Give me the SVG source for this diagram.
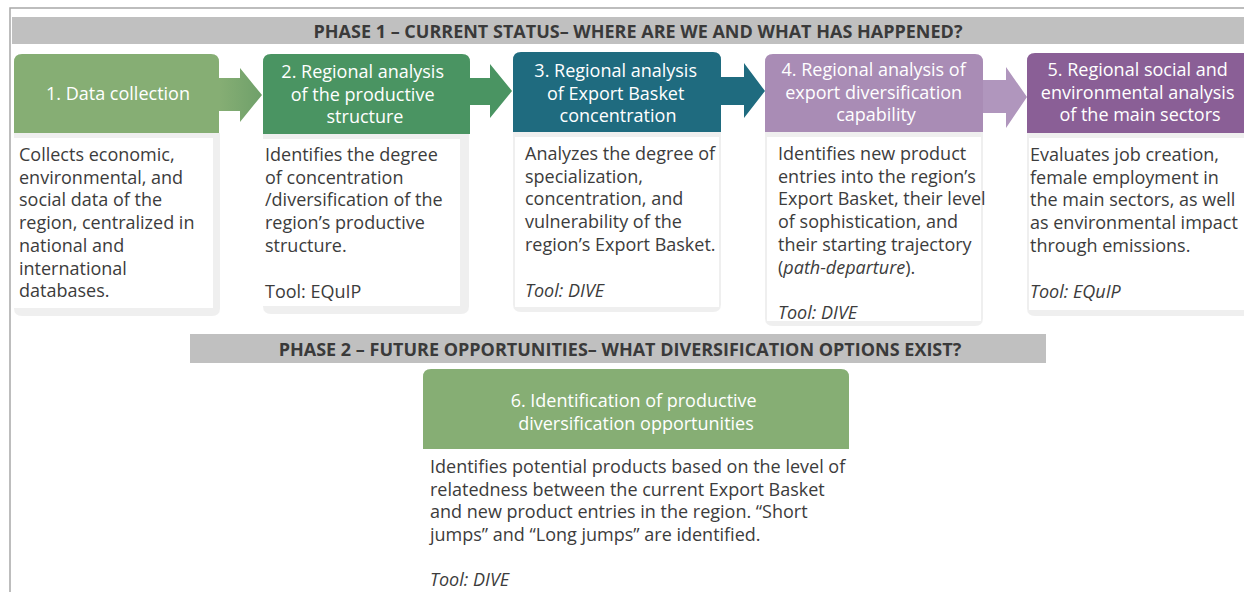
<svg xmlns="http://www.w3.org/2000/svg" width="1244" height="592" viewBox="0 0 1244 592">
  <style>
    .bar { fill: #c0c0c0; }
    .bar-title { font-family: "Open Sans", "Liberation Sans", sans-serif; font-weight: 700; font-size: 18px; fill: #3a3a3a; text-anchor: middle; }
    .head-text { font-family: "Open Sans", "Liberation Sans", sans-serif; font-size: 18px; fill: #ffffff; text-anchor: middle; }
    .body-text { font-family: "Open Sans", "Liberation Sans", sans-serif; font-size: 18px; fill: #3c3c3c; }
    .tool { font-style: italic; }
    .shadow { fill: #efefef; }
    .sheet { fill: #ffffff; }
    .frame { fill: none; stroke: #a8a8a8; stroke-width: 1.5; }
  </style>
  <defs>
    <linearGradient id="arrowGreen" x1="0" y1="0" x2="1" y2="0">
      <stop offset="0" stop-color="#86ae74"/>
      <stop offset="1" stop-color="#6fa06a"/>
    </linearGradient>
  </defs>

  <rect width="1244" height="592" fill="#ffffff"/>
  <!-- outer frame -->
  <polyline class="frame" points="10,592 10,8 1244,8"/>

  <!-- phase banners -->
  <g id="phase1">
    <rect class="bar" x="12" y="17" width="1232" height="27"/>
    <text class="bar-title" x="638" y="37.5">PHASE 1 – CURRENT STATUS– WHERE ARE WE AND WHAT HAS HAPPENED?</text>
  </g>
  <g id="phase2">
    <rect class="bar" x="190" y="334" width="856" height="29"/>
    <text class="bar-title" x="620" y="355.5">PHASE 2 – FUTURE OPPORTUNITIES– WHAT DIVERSIFICATION OPTIONS EXIST?</text>
  </g>

  <!-- connectors -->
  <g id="connectors">
    <polygon fill="url(#arrowGreen)" points="219,78 240,78 240,68 262,95 240,122 240,111 219,111"/>
    <polygon fill="#4a9462" points="470,78 490,78 490,64 512,91 490,118 490,105 470,105"/>
    <polygon fill="#1f6b7f" points="721,77 744,77 744,63 765,91 744,118 744,105 721,105"/>
    <polygon fill="#b096bd" points="983,80 1006,80 1006,67 1027,97 1006,128 1006,113 983,113"/>
  </g>

  <!-- step 1 -->
  <g id="node1">
    <path class="shadow" d="M14,133 H220 V308 Q220,316 212,316 H22 Q14,316 14,308 Z"/>
    <rect class="sheet" x="14" y="138" width="199" height="170"/>
    <path fill="#86ae74" d="M14,133 V62 Q14,54 22,54 H211 Q219,54 219,62 V133 Z"/>
    <text class="head-text" x="118" y="100">1. Data collection</text>
    <text class="body-text" x="19" y="161">
      <tspan x="19">Collects economic,</tspan>
      <tspan x="19" dy="22.7">environmental, and</tspan>
      <tspan x="19" dy="22.7">social data of the</tspan>
      <tspan x="19" dy="22.7">region, centralized in</tspan>
      <tspan x="19" dy="22.7">national and</tspan>
      <tspan x="19" dy="22.7">international</tspan>
      <tspan x="19" dy="22.7">databases.</tspan>
    </text>
  </g>

  <!-- step 2 -->
  <g id="node2">
    <path class="shadow" d="M263,134 H469 V306 Q469,314 461,314 H271 Q263,314 263,306 Z"/>
    <rect class="sheet" x="263" y="139" width="197" height="167"/>
    <path fill="#4a9462" d="M263,134 V62 Q263,54 271,54 H462 Q470,54 470,62 V134 Z"/>
    <text class="head-text" x="365" y="78">
      <tspan x="365">2. Regional analysis</tspan>
      <tspan x="365" dy="22.5">of the productive</tspan>
      <tspan x="365" dy="22.5">structure</tspan>
    </text>
    <text class="body-text" x="265" y="161">
      <tspan x="265">Identifies the degree</tspan>
      <tspan x="265" dy="22.7">of concentration</tspan>
      <tspan x="265" dy="22.7">/diversification of the</tspan>
      <tspan x="265" dy="22.7">region’s productive</tspan>
      <tspan x="265" dy="22.7">structure.</tspan>
      <tspan x="265" y="298">Tool: EQuIP</tspan>
    </text>
  </g>

  <!-- step 3 -->
  <g id="node3">
    <path class="shadow" d="M513,132 H721 V304 Q721,312 713,312 H521 Q513,312 513,304 Z"/>
    <rect class="sheet" x="515" y="137" width="204" height="170"/>
    <path fill="#1f6b7f" d="M513,132 V60 Q513,52 521,52 H713 Q721,52 721,60 V132 Z"/>
    <text class="head-text" x="618" y="77">
      <tspan x="618">3. Regional analysis</tspan>
      <tspan x="618" dy="22.5">of Export Basket</tspan>
      <tspan x="618" dy="22.5">concentration</tspan>
    </text>
    <text class="body-text" x="525" y="160">
      <tspan x="525">Analyzes the degree of</tspan>
      <tspan x="525" dy="22.7">specialization,</tspan>
      <tspan x="525" dy="22.7">concentration, and</tspan>
      <tspan x="525" dy="22.7">vulnerability of the</tspan>
      <tspan x="525" dy="22.7">region’s Export Basket.</tspan>
      <tspan class="tool" x="525" y="297">Tool: DIVE</tspan>
    </text>
  </g>

  <!-- step 4 -->
  <g id="node4">
    <path class="shadow" d="M765,132 H983 V318 Q983,326 975,326 H773 Q765,326 765,318 Z"/>
    <rect class="sheet" x="767" y="137" width="214" height="184"/>
    <path fill="#a98cb5" d="M765,132 V62 Q765,54 773,54 H975 Q983,54 983,62 V132 Z"/>
    <text class="head-text" x="876" y="76">
      <tspan x="876">4. Regional analysis of</tspan>
      <tspan x="876" dy="22.5">export diversification</tspan>
      <tspan x="876" dy="22.5">capability</tspan>
    </text>
    <text class="body-text" x="778" y="160">
      <tspan x="778">Identifies new product</tspan>
      <tspan x="778" dy="22.7">entries into the region’s</tspan>
      <tspan x="778" dy="22.7">Export Basket, their level</tspan>
      <tspan x="778" dy="22.7">of sophistication, and</tspan>
      <tspan x="778" dy="22.7">their starting trajectory</tspan>
      <tspan x="778" dy="22.7">(<tspan class="tool">path-departure</tspan>).</tspan>
      <tspan class="tool" x="778" y="319">Tool: DIVE</tspan>
    </text>
  </g>

  <!-- step 5 -->
  <g id="node5">
    <path class="shadow" d="M1027,133 H1244 V316 H1035 Q1027,316 1027,308 Z"/>
    <rect class="sheet" x="1029" y="138" width="215" height="172"/>
    <path fill="#8a5f96" d="M1027,133 V61 Q1027,53 1035,53 H1244 V133 Z"/>
    <text class="head-text" x="1140" y="76">
      <tspan x="1140">5. Regional social and</tspan>
      <tspan x="1140" dy="22.5">environmental analysis</tspan>
      <tspan x="1140" dy="22.5">of the main sectors</tspan>
    </text>
    <text class="body-text" x="1030" y="161">
      <tspan x="1030">Evaluates job creation,</tspan>
      <tspan x="1030" dy="22.7">female employment in</tspan>
      <tspan x="1030" dy="22.7">the main sectors, as well</tspan>
      <tspan x="1030" dy="22.7">as environmental impact</tspan>
      <tspan x="1030" dy="22.7">through emissions.</tspan>
      <tspan class="tool" x="1030" y="298">Tool: EQuIP</tspan>
    </text>
  </g>

  <!-- step 6 -->
  <g id="node6">
    <path fill="#86ae74" d="M423,449 V377 Q423,369 431,369 H841 Q849,369 849,377 V449 Z"/>
    <text class="head-text" x="636" y="407">
      <tspan x="636">6. Identification of productive</tspan>
      <tspan x="636" dy="22.5">diversification opportunities</tspan>
    </text>
    <text class="body-text" x="430" y="473">
      <tspan x="430">Identifies potential products based on the level of</tspan>
      <tspan x="430" dy="22.7">relatedness between the current Export Basket</tspan>
      <tspan x="430" dy="22.7">and new product entries in the region. “Short</tspan>
      <tspan x="430" dy="22.7">jumps” and “Long jumps” are identified.</tspan>
      <tspan class="tool" x="430" y="586">Tool: DIVE</tspan>
    </text>
  </g>
</svg>
